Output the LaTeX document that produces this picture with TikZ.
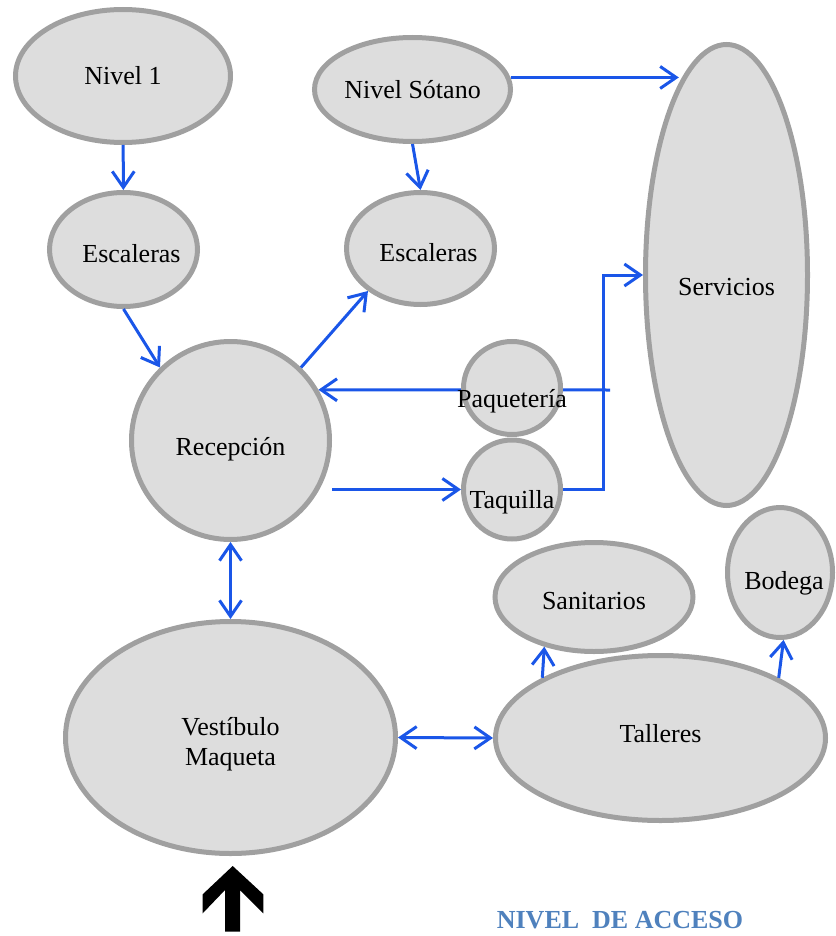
\documentclass[tikz,border=0pt]{standalone}
\usepackage{fontspec}
\setmainfont{Liberation Serif}
\usetikzlibrary{arrows.meta,positioning,shapes.geometric,backgrounds}
\definecolor{azul}{RGB}{26,86,232}
\definecolor{borde}{RGB}{160,160,160}
\definecolor{relleno}{RGB}{221,221,221}
\definecolor{tituloazul}{RGB}{79,129,189}

\begin{document}
\begin{tikzpicture}[x=1pt,y=-1pt,
    font=\fontsize{26}{30}\selectfont,
    zona/.style={ellipse, draw=borde, fill=relleno, line width=5pt, inner sep=0pt, align=center},
    flecha/.style={draw=azul, line width=3pt, -{Straight Barb[length=16pt,width=22pt]}},
    doble/.style={flecha, {Straight Barb[length=16pt,width=22pt]}-{Straight Barb[length=16pt,width=22pt]}}]
    \useasboundingbox (0,0) rectangle (835,936);

    % Niveles superiores
    \node[zona, minimum width=215pt, minimum height=133pt] (niv1) at (123,76) {Nivel 1};
    \node[zona, minimum width=196pt, minimum height=104pt] (sot) at (412.5,89.5) {Nivel Sótano};
    \node[zona, minimum width=162pt, minimum height=461pt,
          label={[yshift=-12pt]center:Servicios}] (serv) at (726.5,275) {};

    % Escaleras
    \node[zona, minimum width=148pt, minimum height=114pt,
          label={[xshift=8pt,yshift=-4pt]center:Escaleras}] (esc1) at (123.5,249.5) {};
    \node[zona, minimum width=148pt, minimum height=112pt,
          label={[xshift=8pt,yshift=-4pt]center:Escaleras}] (esc2) at (420.5,248.5) {};

    % Recepcion y ventanillas
    \node[zona, minimum width=198pt, minimum height=198pt,
          label={[yshift=-9pt]center:Recepción}] (rec) at (230.5,440.5) {};
    \node[zona, minimum width=97pt, minimum height=93pt,
          label={[yshift=-13pt]center:Paquetería}] (paq) at (512,388) {};
    \node[zona, minimum width=97pt, minimum height=99pt,
          label={[yshift=-13pt]center:Taquilla}] (taq) at (512,489.5) {};

    % Planta baja
    \node[zona, minimum width=198pt, minimum height=109pt,
          label={[yshift=-4pt]center:Sanitarios}] (san) at (594,597) {};
    \node[zona, minimum width=105pt, minimum height=130pt,
          label={[xshift=4pt,yshift=-11pt]center:Bodega}] (bod) at (780,572.5) {};
    \node[zona, minimum width=330pt, minimum height=232pt,
          label={[yshift=-7pt,align=center]center:Vestíbulo\\Maqueta}] (vest) at (230.5,737.5) {};
    \node[zona, minimum width=330pt, minimum height=165pt,
          label={[yshift=4pt]center:Talleres}] (tall) at (660.5,738) {};

    % Conexiones
    \coordinate (paqfin) at (610,390);
    \begin{scope}[on background layer]
        \draw[flecha] (paqfin) -- (rec.30);
    \end{scope}
    \draw[flecha] (niv1) -- (esc1);
    \draw[flecha] (sot.south) -- (esc2.north);
    \draw[flecha] (sot.7) -- (sot.7 -| serv.104);
    \draw[flecha] (esc1.south) -- (rec.134);
    \draw[flecha] (rec.46) -- (esc2.219);
    \draw[flecha] (rec.east |- taq.west) -- (taq.west);
    \draw[flecha] (taq.east) -- ++(40,0) |- (serv.west);
    \draw[doble] (rec.south) -- (vest.north);
    \draw[doble] (vest.east) -- (tall.west);
    \draw[flecha] (tall.153) -- (san.225);
    \draw[flecha] (tall.27) -- (bod.273);

    % Acceso
    \fill[black] (232.7,866) -- (263.3,894.3) -- (263.3,913.3) -- (240,890) -- (240,931.7)
        -- (225,931.7) -- (225,890) -- (202.7,913.3) -- (202.7,894.3) -- cycle;
    \node[text=tituloazul, font=\fontsize{26}{30}\selectfont\bfseries] (acceso) at (620,920) {NIVEL\ \ DE ACCESO};
\end{tikzpicture}
\end{document}
